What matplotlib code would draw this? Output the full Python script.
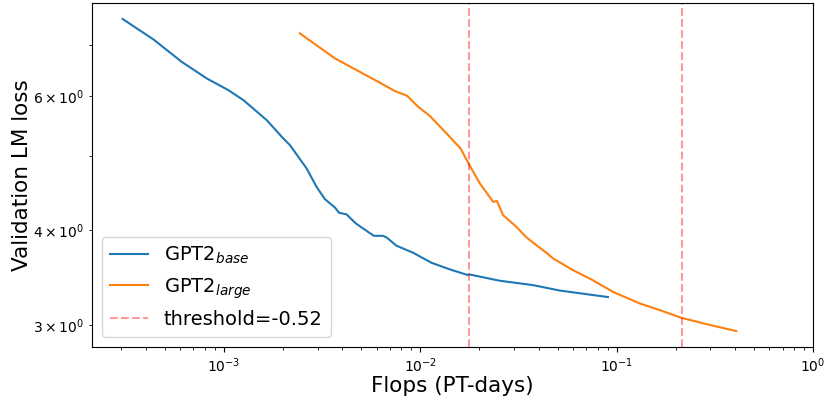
import matplotlib
matplotlib.use("Agg")
from matplotlib import pyplot as plt

# GPT2 base: compute (PT-days) vs validation loss
base_flops = [3.05e-4, 4.37e-4, 6.09e-4, 8.17e-4, 1.051e-3, 1.254e-3, 1.650e-3,
              2.003e-3, 2.167e-3, 2.636e-3, 2.963e-3, 3.266e-3, 3.672e-3, 3.861e-3,
              4.21e-3, 4.696e-3, 5.021e-3, 5.80e-3, 6.466e-3, 6.73e-3, 7.566e-3,
              9.19e-3, 1.14e-2, 1.413e-2, 1.751e-2, 1.77e-2, 2.54e-2, 3.75e-2,
              5.13e-2, 9.03e-2]
base_loss = [7.565, 7.114, 6.648, 6.322, 6.104, 5.923, 5.575,
             5.275, 5.169, 4.817, 4.556, 4.390, 4.281, 4.212,
             4.192, 4.079, 4.030, 3.929, 3.929, 3.910, 3.813,
             3.733, 3.622, 3.550, 3.489, 3.497, 3.43, 3.385,
             3.33, 3.265]

# GPT2 large
large_flops = [2.436e-3, 3.672e-3, 4.734e-3, 6.10e-3, 7.42e-3, 8.57e-3, 9.745e-3,
               1.117e-2, 1.359e-2, 1.602e-2, 1.786e-2, 2.009e-2, 2.347e-2, 2.459e-2,
               2.638e-2, 3.088e-2, 3.471e-2, 4.387e-2, 4.741e-2, 5.99e-2, 7.43e-2,
               9.58e-2, 0.1309, 0.1655, 0.2135, 0.2861, 0.4066]
large_loss = [7.244, 6.717, 6.483, 6.259, 6.085, 5.999, 5.803,
              5.646, 5.355, 5.117, 4.858, 4.604, 4.355, 4.364,
              4.183, 4.037, 3.910, 3.733, 3.670, 3.542, 3.444,
              3.317, 3.203, 3.139, 3.067, 3.009, 2.946]

thresholds = [0.01766, 0.2143]
threshold_label = "threshold=-0.52"

fig = plt.figure(figsize=(8.26, 3.99), dpi=100)
ax = fig.add_axes([0.1114, 0.131, 0.8729, 0.8615])

ax.plot(base_flops, base_loss, color="tab:blue", label=r"GPT2$_{base}$")
ax.plot(large_flops, large_loss, color="tab:orange", label=r"GPT2$_{large}$")
for i, t in enumerate(thresholds):
    ax.axvline(t, color="red", alpha=0.4, linestyle="--",
               label=threshold_label if i == 0 else None)

ax.set_xscale("log")
ax.set_yscale("log")
ax.set_xlim(2.13e-4, 1.0)
ax.set_ylim(2.81, 7.94)

ax.set_xlabel("Flops (PT-days)", fontsize=15.5, labelpad=0.5)
ax.set_ylabel("Validation LM loss", fontsize=15.5, labelpad=1)
ax.legend(loc="lower left", fontsize=14)

plt.savefig("out.png", dpi=100)
